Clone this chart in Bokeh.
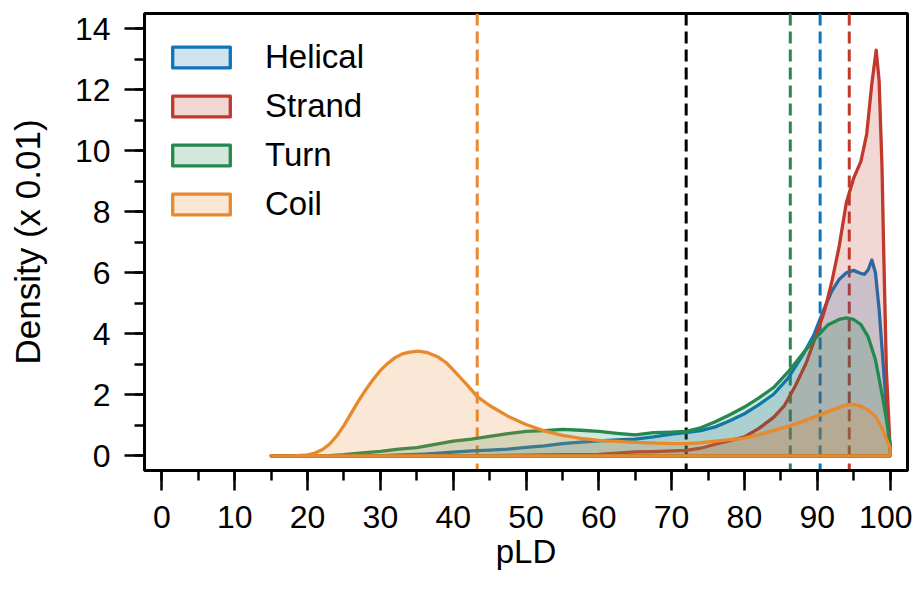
from bokeh.plotting import figure
from bokeh.models import Range1d, SingleIntervalTicker, Span, Legend, LegendItem
from bokeh.embed import file_html
from bokeh.resources import INLINE

# ---- data (density in units of 0.01) ----
labels = ["Helical", "Strand", "Turn", "Coil"]
colors = ["#0f74ba", "#c0392b", "#23894f", "#e8892c"]

helical_x = [15, 25, 30, 33, 36, 40, 42.5, 45, 47.5, 50, 52.5, 55, 57.5, 60, 62.5, 65, 67.5, 70, 72, 74, 76, 78,
             80, 82, 84, 86, 88, 89.5, 91, 92, 93, 94, 95, 96, 96.5, 97, 97.5, 98, 98.5, 99, 99.5, 100]
helical_y = [0, 0, 0.01, 0.03, 0.06, 0.12, 0.16, 0.19, 0.22, 0.28, 0.33, 0.40, 0.45, 0.49, 0.52, 0.55, 0.62, 0.71,
             0.76, 0.83, 0.95, 1.15, 1.38, 1.68, 2.02, 2.55, 3.3, 3.94, 4.85, 5.4, 5.78, 6.0, 6.08, 5.98, 5.95, 6.1,
             6.42, 6.0, 4.8, 3.2, 1.6, 0.3]

strand_x = [15, 40, 50, 55, 60, 62.5, 65, 67.5, 70, 72, 74, 76, 78, 80, 82, 84, 85.5, 87, 88.5, 90, 91, 92, 93, 94,
            95, 96, 96.8, 97.5, 98.1, 98.5, 98.9, 99.1, 99.5, 100]
strand_y = [0, 0, 0.02, 0.04, 0.05, 0.09, 0.13, 0.14, 0.16, 0.18, 0.25, 0.38, 0.5, 0.62, 0.9, 1.26, 1.65, 2.3, 3.05,
            4.05, 4.75, 5.7, 6.85, 8.3, 9.1, 9.65, 10.55, 12.2, 13.3, 12.3, 9.46, 7.05, 2.8, 0.3]

turn_x = [15, 20, 23, 25, 27.5, 30, 32.5, 35, 37.5, 40, 42.5, 45, 47.5, 50, 52.5, 55, 57.5, 60, 62.5, 65, 67.5, 70,
          72, 74, 76, 78, 80, 82, 84, 86, 88, 90, 91.5, 93, 94, 95, 96, 97, 98, 99, 99.5, 100]
turn_y = [0, 0, 0.01, 0.04, 0.1, 0.15, 0.22, 0.27, 0.38, 0.48, 0.55, 0.64, 0.73, 0.80, 0.83, 0.87, 0.84, 0.80, 0.74,
          0.69, 0.76, 0.78, 0.80, 0.92, 1.12, 1.35, 1.6, 1.9, 2.24, 2.75, 3.35, 3.92, 4.3, 4.47, 4.52, 4.47, 4.3,
          3.9, 3.15, 1.9, 1.2, 0.4]

coil_x = [15, 18, 20, 21, 22, 23, 24, 25, 26, 27, 28, 29, 30, 31, 32, 33, 34, 35.2, 36.5, 38, 39, 40, 41, 42, 43.3,
          45, 47.5, 50, 52.5, 55, 57.5, 60, 65, 70, 72, 74, 76, 78, 80, 82, 84, 86, 88, 90, 92, 94, 95, 96, 97, 98,
          99, 100]
coil_y = [0, 0, 0.03, 0.09, 0.2, 0.38, 0.65, 1.0, 1.4, 1.8, 2.17, 2.5, 2.8, 3.03, 3.22, 3.34, 3.4, 3.43, 3.38, 3.23,
          3.06, 2.82, 2.56, 2.3, 1.94, 1.65, 1.3, 1.03, 0.82, 0.67, 0.57, 0.51, 0.44, 0.40, 0.40, 0.43, 0.48, 0.53,
          0.58, 0.70, 0.83, 0.97, 1.13, 1.31, 1.50, 1.67, 1.69, 1.63, 1.50, 1.30, 0.85, 0.27]

# mean pLD per class (dashed lines) and overall mean
means = [90.4, 94.4, 86.3, 43.3]
overall_mean = 72.0

x_ticks_interval = 10
y_ticks_interval = 2

series = [(helical_x, helical_y), (strand_x, strand_y), (turn_x, turn_y), (coil_x, coil_y)]

FONT = "Liberation Sans"

p = figure(width=912, height=584, x_range=Range1d(-2.4, 102.4), y_range=Range1d(-0.48, 14.5),
           output_backend="svg", toolbar_location=None,
           min_border_left=144, min_border_right=5, min_border_top=13, min_border_bottom=114)
p.xgrid.visible = False
p.ygrid.visible = False
p.outline_line_color = "black"
p.outline_line_width = 3
p.background_fill_color = "white"
p.border_fill_color = "white"

# dashed mean lines (beneath the filled areas)
dash = "12 6"
p.add_layout(Span(location=overall_mean, dimension="height", line_color="black", line_width=3,
                  line_dash=dash, level="underlay"))
for m, c in zip(means, colors):
    p.add_layout(Span(location=m, dimension="height", line_color=c, line_width=3,
                      line_dash=dash, level="underlay"))

items = []
for (xs, ys), c, lab in zip(series, colors, labels):
    px = list(xs) + [xs[-1], xs[0]]
    py = list(ys) + [0, 0]
    r = p.patch(px, py, fill_color=c, fill_alpha=0.2, line_color=c, line_width=3.3, line_join="round")
    items.append(LegendItem(label=lab, renderers=[r]))

legend = Legend(items=items, location=(21, 247), glyph_width=72, glyph_height=26, label_standoff=28,
                label_height=37, spacing=11, padding=0, margin=0,
                label_text_font=FONT, label_text_font_size="33px", label_text_color="black",
                border_line_alpha=0, background_fill_alpha=0)
p.add_layout(legend)

p.xaxis.ticker = SingleIntervalTicker(interval=x_ticks_interval, num_minor_ticks=2)
p.yaxis.ticker = SingleIntervalTicker(interval=y_ticks_interval, num_minor_ticks=2)
p.xaxis.axis_label = "pLD"
p.yaxis.axis_label = "Density (x 0.01)"
for ax in (p.xaxis, p.yaxis):
    ax.major_tick_out = 20
    ax.major_tick_in = 0
    ax.minor_tick_out = 10
    ax.minor_tick_in = 0
    ax.major_tick_line_width = 2.5
    ax.minor_tick_line_width = 2.5
    ax.major_tick_line_color = "black"
    ax.minor_tick_line_color = "black"
    ax.axis_line_width = 3
    ax.axis_line_color = "black"
    ax.major_label_text_font = FONT
    ax.major_label_text_font_size = "32px"
    ax.major_label_text_color = "black"
    ax.axis_label_text_font = FONT
    ax.axis_label_text_font_style = "normal"
    ax.axis_label_text_color = "black"
p.xaxis.axis_label_text_font_size = "33px"
p.yaxis.axis_label_text_font_size = "35px"
p.xaxis.major_label_standoff = 15
p.yaxis.major_label_standoff = 14
p.xaxis.axis_label_standoff = 2
p.yaxis.axis_label_standoff = 25

open("out.html", "w").write(file_html(p, INLINE))
